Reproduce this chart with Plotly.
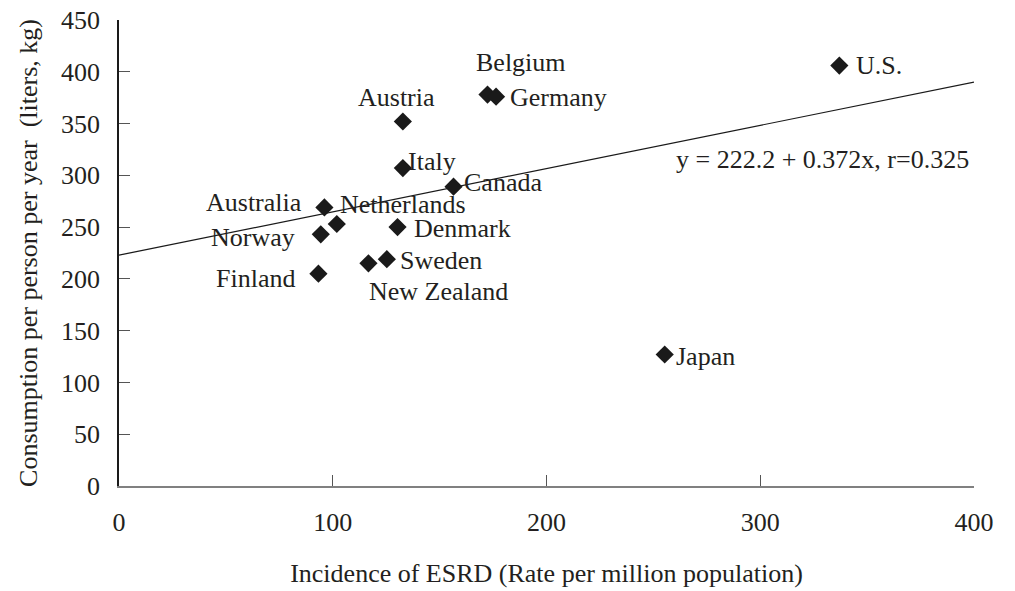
import plotly.graph_objects as go

countries = ["Belgium", "Germany", "U.S.", "Austria", "Italy", "Canada", "Australia",
             "Netherlands", "Norway", "Denmark", "Sweden", "Finland", "New Zealand", "Japan"]
esrd_incidence = [172.4, 176.4, 337.0, 132.8, 132.8, 156.5, 96.1,
                  101.9, 94.4, 130.3, 125.3, 93.3, 116.7, 255.3]
consumption = [378, 376, 406, 352, 307, 289, 269,
               253, 243, 250, 219, 205, 215, 127]

trend_x = [0, 400]
trend_y = [223, 390]
equation_text = "y = 222.2 + 0.372x, r=0.325"

x_ticks = [0, 100, 200, 300, 400]
y_ticks = [0, 50, 100, 150, 200, 250, 300, 350, 400, 450]

# label placement (pixels): anchor, xshift, yshift
label_pos = {
    "Belgium": ("center", 33, 32),
    "Germany": ("left", 12, -1),
    "U.S.": ("left", 15, 0),
    "Austria": ("center", -6, 24),
    "Italy": ("left", 3, 7),
    "Canada": ("left", 8, 4),
    "Australia": ("right", -20, 5),
    "Netherlands": ("left", 1, 20),
    "Norway": ("right", -24, -3),
    "Denmark": ("left", 14, -1),
    "Sweden": ("left", 11, -1),
    "Finland": ("right", -21, -5),
    "New Zealand": ("left", -1, -28),
    "Japan": ("left", 9, -2),
}

FONT = "Liberation Serif, Times New Roman, serif"
TXT = "#231f20"
FS = 26

fig = go.Figure()
fig.add_trace(go.Scatter(
    x=trend_x, y=trend_y, mode="lines",
    line=dict(color="#1a1a1a", width=1.2), hoverinfo="skip", showlegend=False))
fig.add_trace(go.Scatter(
    x=esrd_incidence, y=consumption, mode="markers",
    marker=dict(symbol="diamond", size=14, color="#1a1a1a"),
    text=countries, showlegend=False))

for name, xv, yv in zip(countries, esrd_incidence, consumption):
    anc, xs, ys = label_pos[name]
    fig.add_annotation(x=xv, y=yv, xref="x", yref="y", text=name, showarrow=False,
                       xanchor=anc, yanchor="middle", xshift=xs, yshift=ys,
                       font=dict(family=FONT, size=FS, color=TXT))

fig.add_annotation(x=329, y=315.5, xref="x", yref="y", text=equation_text, showarrow=False,
                   xanchor="center", yanchor="middle",
                   font=dict(family=FONT, size=FS, color=TXT))

fig.update_layout(
    width=1015, height=591,
    margin=dict(l=119, r=41, t=20, b=105),
    plot_bgcolor="white", paper_bgcolor="white",
    font=dict(family=FONT, size=FS, color=TXT),
    xaxis=dict(range=[0, 400], tickvals=x_ticks, ticks="inside", ticklen=11,
               tickcolor="#555555", tickwidth=1, showline=True, linecolor="#808080",
               linewidth=1.5, showgrid=False, zeroline=False, ticklabelstandoff=12,
               automargin=False,
               title=dict(text="Incidence of ESRD (Rate per million population)",
                          font=dict(family=FONT, size=FS, color=TXT), standoff=28)),
    yaxis=dict(range=[0, 450], tickvals=y_ticks, ticks="inside", ticklen=11,
               tickcolor="#555555", tickwidth=1, showline=True, linecolor="#1a1a1a",
               linewidth=1.5, showgrid=False, zeroline=False, ticklabelstandoff=12,
               automargin=False,
               title=dict(text="Consumption per person per year  (liters, kg)",
                          font=dict(family=FONT, size=FS, color=TXT), standoff=16)),
)

fig.write_html("out.html", config={"displayModeBar": False},
               post_script="document.body.style.margin='0px';")
